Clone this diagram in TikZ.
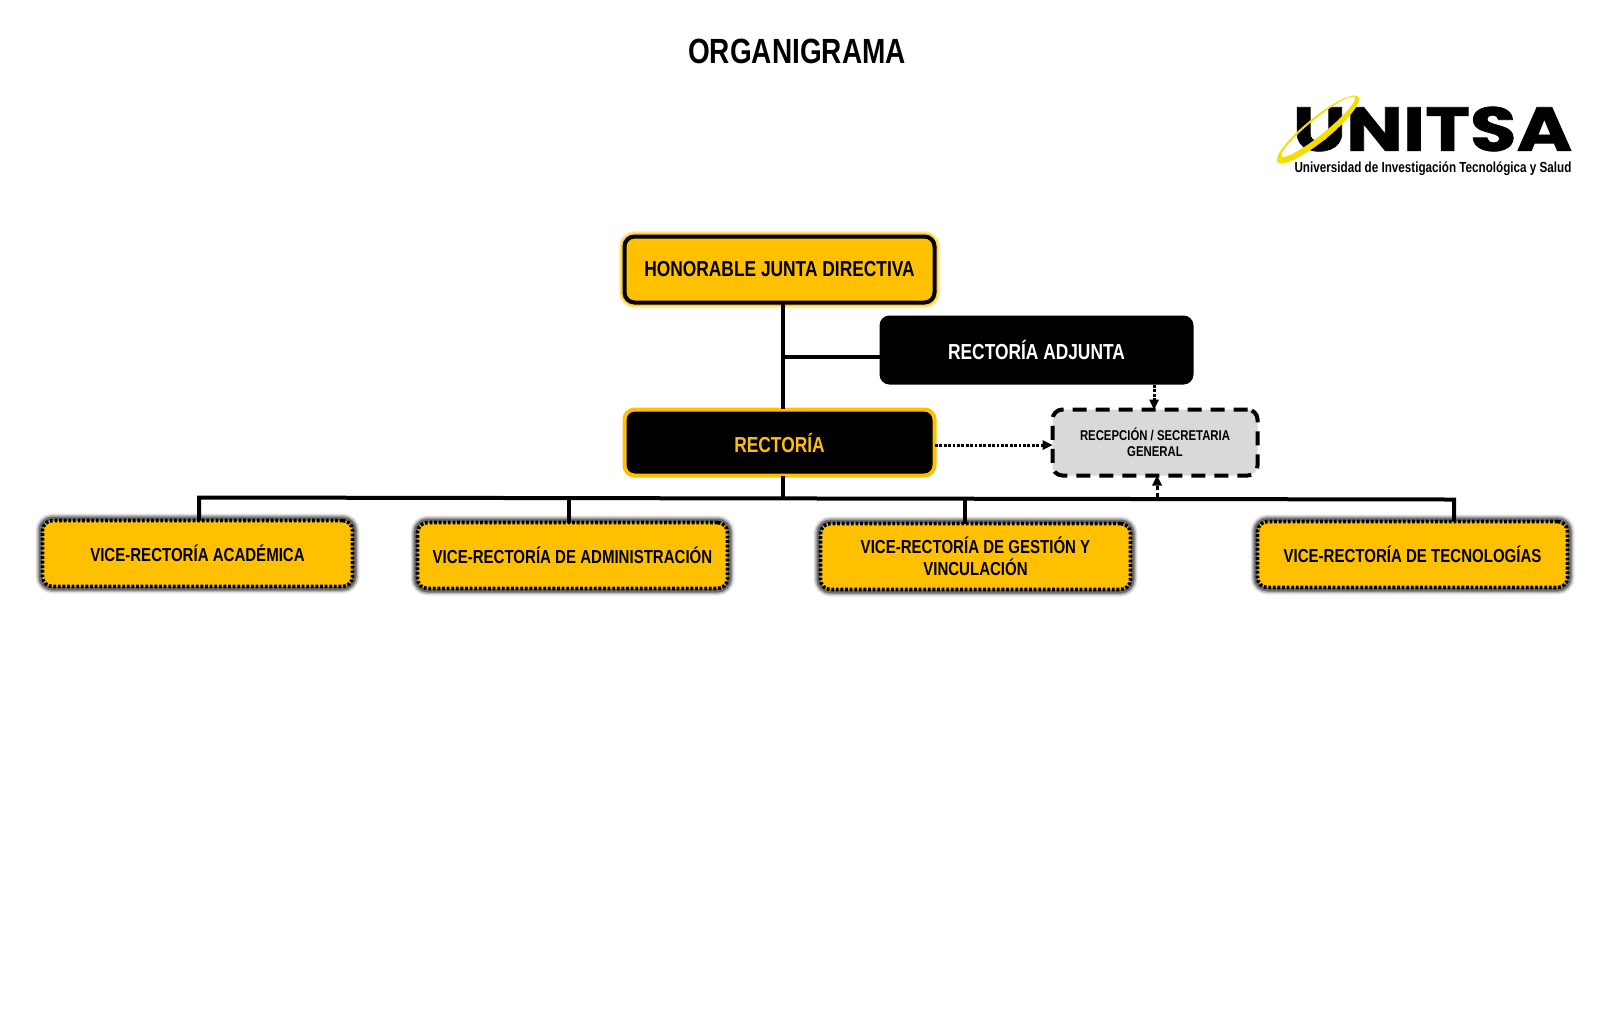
\documentclass[tikz,border=0pt]{standalone}
\usepackage{fontspec}
\setmainfont[FakeStretch=0.8]{Liberation Sans}
\newfontfamily\logofont[FakeStretch=1.22,FakeBold=1.2]{Poppins}
\usetikzlibrary{arrows.meta,positioning}
\definecolor{amber}{HTML}{FFC000}
\definecolor{logoyellow}{HTML}{F7DC00}
\definecolor{paleshade}{HTML}{D9D9D9}

\begin{document}
\begin{tikzpicture}[
    x=0.5pt, y=-0.5pt,
    title/.style={font=\fontsize{17.5}{22}\selectfont\bfseries},
    box/.style={rounded corners=5pt, minimum width=155pt, minimum height=33pt, align=center, outer sep=0pt, font=\fontsize{10.85}{13}\selectfont\bfseries},
    board/.style={box, fill=amber, draw=black, line width=2pt,
        preaction={draw=amber, line width=6pt, opacity=0.2},
        preaction={draw=amber, line width=4.6pt, opacity=0.35},
        preaction={draw=amber, line width=3.4pt, opacity=0.6}},
    deputy/.style={box, minimum width=157pt, minimum height=34.5pt, fill=black, text=white},
    head/.style={box, fill=black, draw=amber, line width=2pt, text=amber},
    office/.style={box, minimum width=102.5pt, fill=paleshade, draw=black, line width=2pt, dash pattern=on 7pt off 4.5pt, font=\fontsize{7.1}{8}\selectfont\bfseries},
    vice/.style={box, fill=amber, font=\fontsize{9.4}{11.2}\selectfont\bfseries,
        preaction={draw=black, line width=7pt, opacity=0.1},
        preaction={draw=black, line width=5.6pt, opacity=0.2},
        preaction={draw=black, line width=4pt, opacity=0.4},
        postaction={draw=black, line width=1.8pt, dash pattern=on 1.4pt off 0.9pt}},
    line/.style={draw=black, line width=2pt},
    arrow/.style={-{Triangle[length=5pt,width=5pt,line width=0pt,fill=black]}, line width=1.5pt, draw=black, dash pattern=on 1.4pt off 0.8pt},
    darrow/.style={arrow, dash pattern=on 3pt off 1.5pt}
]
    \useasboundingbox (0,0) rectangle (1600,1030);

    % Title
    \node[title] (title) at (797,51) {ORGANIGRAMA};

    % Logo
    \node[inner sep=0pt, anchor=center, font=\logofont\bfseries\fontsize{31}{31}\selectfont] (logotext) at (1432.5,129) {UNITSA};
    \node[inner sep=0pt, font=\fontsize{7.3}{9}\selectfont\bfseries] (logosub) at (1433,169) {Universidad de Investigación Tecnológica y Salud};
    \fill[logoyellow, even odd rule, rotate around={39:(1318,129.5)}]
        (1318,129.5) ellipse [x radius=52, y radius=12]
        (1320,127.5) ellipse [x radius=47, y radius=8];

    % Top tier
    \node[board] (junta) at (779.5,269.5) {HONORABLE JUNTA DIRECTIVA};
    \node[deputy] (adjunta) at (1036.5,350) {RECTORÍA ADJUNTA};
    \node[head] (rectoria) at (779.5,442.5) {RECTORÍA};
    \node[office] (recepcion) at (1155,442.5) {RECEPCIÓN / SECRETARIA\\GENERAL};

    % Vice tier
    \node[vice] (viceacad) at (197.5,553.5) {VICE-RECTORÍA ACADÉMICA};
    \node[vice] (viceadmin) at (572.5,555.5) {VICE-RECTORÍA DE ADMINISTRACIÓN};
    \node[vice] (vicegestion) at (975.5,556.5) {VICE-RECTORÍA DE GESTIÓN Y\\VINCULACIÓN};
    \node[vice] (vicetec) at (1412.5,554.5) {VICE-RECTORÍA DE TECNOLOGÍAS};

    % Bus
    \coordinate (bus) at (783,498.5);
    \coordinate (tapacad) at (199,497.5);
    \coordinate (tapadmin) at (569,498);
    \coordinate (tapgestion) at (965,499);
    \coordinate (taprecep) at (1157,499);
    \coordinate (taptec) at (1454,499.5);
    \coordinate (trunk) at (783,356.5);
    \coordinate (topjunta) at (783,303);
    \coordinate (toprect) at (783,409);
    \coordinate (botrect) at (783,476);
    \coordinate (rectout) at (935,445);
    \coordinate (adjout) at (1154,385);

    % Connections
    \draw[line] (topjunta) -- (toprect);
    \draw[line] (trunk) -- (trunk -| adjunta.west);
    \draw[line] (botrect) -- (bus);
    \draw[line] (tapacad |- viceacad.north) -- (tapacad) -- (taptec) -- (taptec |- vicetec.north);
    \draw[line] (tapadmin) -- (tapadmin |- viceadmin.north);
    \draw[line] (tapgestion) -- (tapgestion |- vicegestion.north);
    \draw[arrow] (rectout) -- (rectout -| recepcion.west);
    \draw[arrow] (adjout) -- (adjout |- recepcion.north);
    \draw[darrow] (taprecep) -- (taprecep |- recepcion.south);
\end{tikzpicture}
\end{document}
